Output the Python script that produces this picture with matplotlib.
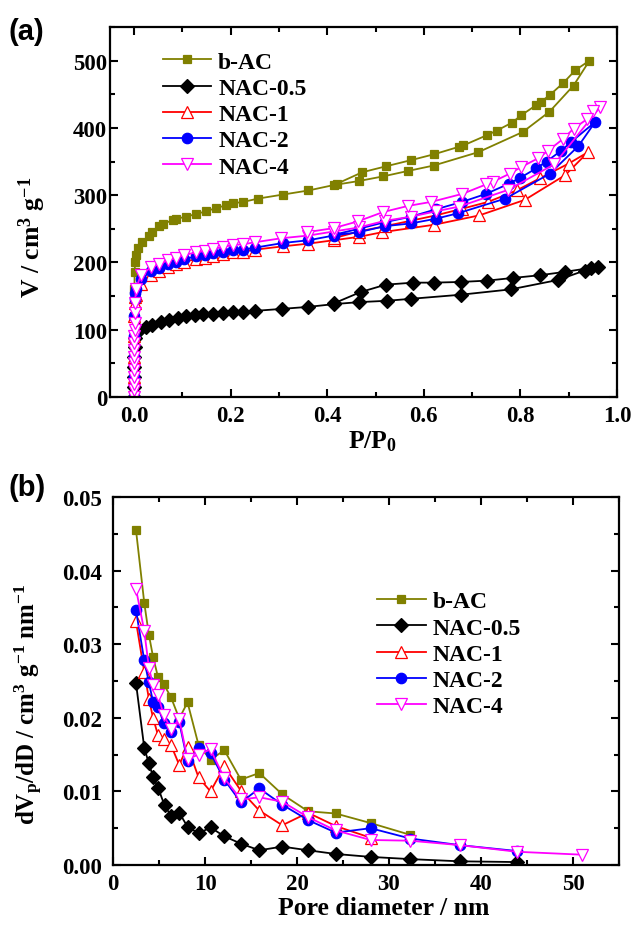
import matplotlib
matplotlib.use('Agg')
import matplotlib.pyplot as plt
from matplotlib.ticker import MultipleLocator, FormatStrFormatter

plt.rcParams['font.family'] = ['Liberation Serif', 'DejaVu Serif']
plt.rcParams['font.weight'] = 'bold'
plt.rcParams['mathtext.fontset'] = 'custom'
plt.rcParams['mathtext.rm'] = 'Liberation Serif:bold'
plt.rcParams['mathtext.bf'] = 'Liberation Serif:bold'
plt.rcParams['mathtext.it'] = 'Liberation Serif:bold'

# ---------------- Panel (a): N2 isotherms (adsorption then desorption) ----------------
labels = ['b-AC', 'NAC-0.5', 'NAC-1', 'NAC-2', 'NAC-4']

bac_p_ads = [0, 0.0001, 0.0002, 0.0003, 0.0005, 0.001, 0.002, 0.0035, 0.008, 0.017, 0.031, 0.038,
             0.052, 0.059, 0.08, 0.087, 0.108, 0.128, 0.149, 0.17, 0.191, 0.205, 0.226, 0.257,
             0.309, 0.361, 0.413, 0.465, 0.516, 0.567, 0.62, 0.713, 0.805, 0.86, 0.91, 0.943]
bac_v_ads = [0, 40, 80, 120, 160, 186, 200, 211, 222, 230, 240, 246,
             254, 257, 263, 265, 268, 272, 276, 281, 285, 288, 290, 295,
             301, 307, 315, 321, 328, 336, 344, 364, 394, 424, 463, 500]
bac_p_des = [0.914, 0.889, 0.861, 0.843, 0.833, 0.802, 0.783, 0.751, 0.73, 0.682, 0.673,
             0.622, 0.573, 0.522, 0.472, 0.42]
bac_v_des = [486, 467, 449, 439, 434, 419, 408, 396, 389, 374, 372,
             361, 352, 343, 334, 317]

n05_p_ads = [0, 0.0001, 0.0002, 0.0004, 0.0007, 0.001, 0.002, 0.005, 0.01, 0.024, 0.038, 0.055,
             0.073, 0.09, 0.108, 0.125, 0.142, 0.163, 0.184, 0.205, 0.226, 0.25, 0.306, 0.361,
             0.413, 0.465, 0.523, 0.574, 0.676, 0.78, 0.878, 0.933, 0.96]
n05_v_ads = [0, 15, 30, 45, 60, 75, 88, 97, 100, 104, 107, 111,
             115, 117, 120, 122, 123, 124, 125, 126, 127, 128, 131, 134,
             138, 141, 143, 146, 152, 160, 174, 188, 193]
n05_p_des = [0.946, 0.892, 0.84, 0.785, 0.731, 0.676, 0.62, 0.578, 0.521, 0.469, 0.413]
n05_v_des = [192, 186, 181, 177, 173, 171, 170, 170, 167, 156, 139]

n1_p_ads = [0, 0.0001, 0.0002, 0.0004, 0.0007, 0.001, 0.002, 0.0035, 0.014, 0.035, 0.052, 0.07,
            0.087, 0.104, 0.128, 0.146, 0.163, 0.184, 0.205, 0.226, 0.25, 0.309, 0.361, 0.413,
            0.465, 0.514, 0.621, 0.715, 0.809, 0.893, 0.94]
n1_v_ads = [0, 30, 60, 90, 120, 140, 148, 152, 168, 182, 188, 193,
            197, 201, 205, 207, 210, 213, 215, 216, 219, 224, 228, 233,
            238, 245, 256, 270, 293, 330, 364]
n1_p_des = [0.9, 0.84, 0.792, 0.733, 0.68, 0.625, 0.573, 0.52, 0.465, 0.413]
n1_v_des = [347, 325, 307, 290, 280, 270, 262, 254, 246, 236]

n2_p_ads = [0, 0.0001, 0.0002, 0.0004, 0.0007, 0.001, 0.002, 0.0035, 0.014, 0.035, 0.052, 0.07,
            0.087, 0.104, 0.128, 0.146, 0.163, 0.184, 0.205, 0.226, 0.25, 0.309, 0.361, 0.413,
            0.465, 0.52, 0.573, 0.625, 0.67, 0.769, 0.861, 0.92, 0.955]
n2_v_ads = [0, 30, 60, 90, 120, 145, 155, 160, 175, 187, 192, 197,
            201, 205, 209, 211, 214, 216, 218, 219, 222, 229, 233, 240,
            245, 254, 258, 265, 273, 295, 332, 373, 409]
n2_p_des = [0.905, 0.884, 0.854, 0.833, 0.8, 0.776, 0.729, 0.679, 0.625, 0.573, 0.52, 0.465, 0.413]
n2_v_des = [379, 366, 350, 340, 326, 317, 302, 290, 279, 268, 260, 250, 241]

n4_p_ads = [0, 0.00005, 0.0001, 0.00015, 0.0002, 0.00025, 0.0003, 0.0004, 0.0005, 0.0006,
            0.0008, 0.001, 0.0015, 0.002, 0.0035,
            0.014, 0.035, 0.052, 0.07, 0.087, 0.104, 0.128, 0.146, 0.163, 0.184, 0.205, 0.226,
            0.25, 0.305, 0.361, 0.413, 0.465, 0.52, 0.573, 0.625, 0.673, 0.775, 0.87, 0.965]
n4_v_ads = [0, 10, 20, 30, 40, 50, 60, 70, 80, 90,
            100, 110, 125, 140, 161,
            181, 193, 198, 203, 207, 211, 215, 217, 220, 223, 226, 227,
            230, 236, 240, 246, 252, 262, 268, 276, 283, 308, 346, 431]
n4_p_des = [0.951, 0.938, 0.91, 0.889, 0.857, 0.837, 0.802, 0.778, 0.743, 0.729, 0.68,
            0.615, 0.567, 0.516, 0.463, 0.413, 0.358]
n4_v_des = [425, 413, 399, 384, 366, 355, 342, 332, 320, 316, 302,
            290, 284, 275, 261, 251, 245]

# ---------------- Panel (b): BJH pore size distributions ----------------
bac_d = [2.5, 3.4, 3.9, 4.35, 4.9, 5.5, 6.3, 7.2, 8.1, 9.3, 10.6, 12.1, 13.9, 15.9, 18.4,
         21.2, 24.2, 28.0, 32.3]
bac_dv = [0.0455, 0.0356, 0.0313, 0.0283, 0.0255, 0.0246, 0.0228, 0.0199, 0.0221, 0.0163,
          0.0143, 0.0156, 0.0116, 0.0125, 0.0096, 0.0073, 0.0070, 0.0057, 0.0041]

n05_d = [2.5, 3.4, 3.9, 4.35, 4.9, 5.6, 6.3, 7.2, 8.1, 9.3, 10.6, 12.1, 13.9, 15.9, 18.4,
         21.2, 24.2, 28.0, 32.3, 37.7, 43.9]
n05_dv = [0.0247, 0.0159, 0.0138, 0.0120, 0.0105, 0.0081, 0.0067, 0.0071, 0.0052, 0.0043,
          0.0051, 0.0039, 0.0029, 0.0020, 0.0025, 0.0020, 0.0015, 0.0011, 0.0008, 0.0005, 0.0004]

n1_d = [2.5, 3.4, 3.9, 4.35, 4.9, 5.5, 6.3, 7.2, 8.1, 9.3, 10.6, 12.1, 13.9, 15.9, 18.4,
        21.2, 24.2, 28.0]
n1_dv = [0.0331, 0.0262, 0.0226, 0.0200, 0.0176, 0.0171, 0.0163, 0.0136, 0.0161, 0.0119,
         0.0100, 0.0134, 0.0101, 0.0074, 0.0054, 0.0071, 0.0053, 0.0037]

n2_d = [2.5, 3.4, 3.9, 4.35, 4.9, 5.5, 6.3, 7.2, 8.1, 9.3, 10.6, 12.1, 13.9, 15.9, 18.4,
        21.2, 24.2, 28.0, 32.3, 37.7, 43.9]
n2_dv = [0.0346, 0.0278, 0.0248, 0.0222, 0.0215, 0.0193, 0.0181, 0.0194, 0.0141, 0.0159,
         0.0152, 0.0116, 0.0085, 0.0104, 0.0082, 0.0061, 0.0044, 0.0050, 0.0036, 0.0027, 0.0019]

n4_d = [2.5, 3.4, 3.9, 4.35, 4.9, 5.5, 6.3, 7.2, 8.1, 9.3, 10.6, 12.1, 13.9, 15.9, 18.4,
        21.2, 24.2, 28.0, 32.3, 37.7, 43.9, 51.0]
n4_dv = [0.0375, 0.0318, 0.0268, 0.0245, 0.0231, 0.0204, 0.0185, 0.0198, 0.0144, 0.0150,
         0.0157, 0.0118, 0.0089, 0.0092, 0.0086, 0.0065, 0.0047, 0.0034, 0.0033, 0.0027,
         0.0018, 0.0014]

# ---------------- Styles ----------------
styles = [
    dict(color='#808000', marker='s', mfc='#808000', mec='#808000', ms=6.3),
    dict(color='black', marker='D', mfc='black', mec='black', ms=7.5),
    dict(color='#FF0000', marker='^', mfc='white', mec='#FF0000', ms=8.5),
    dict(color='#0000FF', marker='o', mfc='#0000FF', mec='#0000FF', ms=7.5),
    dict(color='#FF00FF', marker='v', mfc='white', mec='#FF00FF', ms=8.5),
]

iso = [
    (bac_p_ads + bac_p_des, bac_v_ads + bac_v_des),
    (n05_p_ads + n05_p_des, n05_v_ads + n05_v_des),
    (n1_p_ads + n1_p_des, n1_v_ads + n1_v_des),
    (n2_p_ads + n2_p_des, n2_v_ads + n2_v_des),
    (n4_p_ads + n4_p_des, n4_v_ads + n4_v_des),
]
psd = [(bac_d, bac_dv), (n05_d, n05_dv), (n1_d, n1_dv), (n2_d, n2_dv), (n4_d, n4_dv)]

W, H = 634, 929
fig = plt.figure(figsize=(W / 100, H / 100), dpi=100)

def px_axes(left, top, right, bottom):
    return fig.add_axes([left / W, 1 - bottom / H, (right - left) / W, (bottom - top) / H])

axa = px_axes(110, 28, 617, 398)
axb = px_axes(113, 498, 619, 866)

for (x, y), lab, st in zip(iso, labels, styles):
    axa.plot(x, y, lw=1.3, mew=0.9, label=lab, **st)
for (x, y), lab, st in zip(psd, labels, styles):
    axb.plot(x, y, lw=1.3, mew=0.9, label=lab, **st)

def style_axis(ax, ypad):
    for s in ax.spines.values():
        s.set_linewidth(1.6)
    ax.tick_params(which='both', direction='in', top=True, right=True, width=1.5)
    ax.tick_params(which='major', length=6)
    ax.tick_params(which='minor', length=3.5)
    ax.tick_params(axis='x', which='major', pad=6)
    ax.tick_params(axis='y', which='major', pad=ypad)
    for t in ax.get_xticklabels() + ax.get_yticklabels():
        t.set_fontsize(16.5)
        t.set_fontweight('bold')

axa.set_xlim(-0.05, 1.0)
axa.set_ylim(0, 550)
axa.xaxis.set_major_locator(MultipleLocator(0.2))
axa.xaxis.set_minor_locator(MultipleLocator(0.1))
axa.yaxis.set_major_locator(MultipleLocator(100))
axa.yaxis.set_minor_locator(MultipleLocator(50))
axa.xaxis.set_major_formatter(FormatStrFormatter('%.1f'))
style_axis(axa, 2)

axb.set_xlim(0, 55)
axb.set_ylim(0, 0.05)
axb.xaxis.set_major_locator(MultipleLocator(10))
axb.xaxis.set_minor_locator(MultipleLocator(5))
axb.yaxis.set_major_locator(MultipleLocator(0.01))
axb.yaxis.set_minor_locator(MultipleLocator(0.005))
axb.yaxis.set_major_formatter(FormatStrFormatter('%.2f'))
style_axis(axb, 8)

axa.set_xlabel(r'P/P$_{0}$', fontsize=18.5, fontweight='bold')
axa.xaxis.set_label_coords(0.517, -0.085)
axa.set_ylabel(r'V / cm$^{3}$ g$^{-1}$', fontsize=18.5, fontweight='bold')
axa.yaxis.set_label_coords(-0.122, 0.435)

axb.set_xlabel('Pore diameter / nm', fontsize=18.5, fontweight='bold')
axb.xaxis.set_label_coords(0.535, -0.083)
axb.set_ylabel(r'dV$_{p}$/dD / cm$^{3}$ g$^{-1}$ nm$^{-1}$', fontsize=18, fontweight='bold')
axb.yaxis.set_label_coords(-0.135, 0.44)

leg_kw = dict(frameon=False, fontsize=17, handlelength=2.05, handletextpad=0.3,
              labelspacing=0.2, borderpad=0, borderaxespad=0, loc='upper left')
axa.legend(bbox_to_anchor=(0.104, 0.935), **leg_kw)
axb.legend(bbox_to_anchor=(0.522, 0.745), **leg_kw)

fig.text(8 / W, 1 - 18 / H, '(a)', fontsize=21, fontweight='bold', family='Liberation Sans',
         ha='left', va='top')
fig.text(8 / W, 1 - 474 / H, '(b)', fontsize=21, fontweight='bold', family='Liberation Sans',
         ha='left', va='top')

fig.savefig('out.png', dpi=100)
